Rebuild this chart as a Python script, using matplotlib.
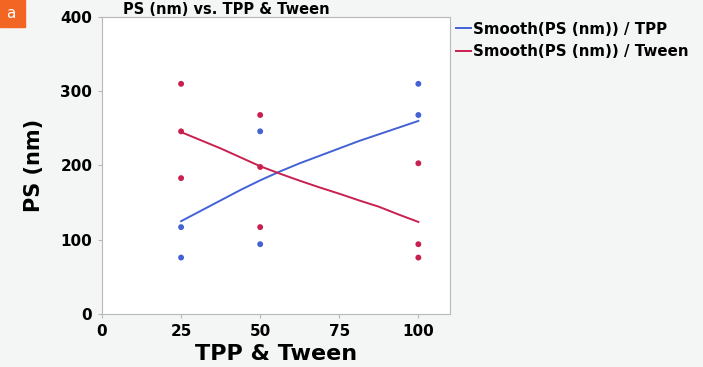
import matplotlib.pyplot as plt
from matplotlib.patches import Rectangle

# raw points
tpp_x = [25, 25, 50, 50, 100, 100]
tpp_ps = [117, 76, 246, 94, 310, 268]
tween_x = [25, 25, 25, 50, 50, 50, 100, 100, 100]
tween_ps = [310, 246, 183, 268, 198, 117, 203, 94, 76]

# smooth curves, read at a few x positions
smooth_x = [25, 31.25, 37.5, 43.75, 50, 56.25, 62.5, 68.75, 75, 81.25, 87.5, 93.75, 100]
smooth_tpp = [125, 139, 153, 167, 180, 192, 203, 213, 223, 233, 242, 251, 260]
smooth_tween = [245, 234, 223, 211, 199, 189, 179.5, 170.5, 162, 153, 144.5, 134, 124]

blue = '#4262d6'
red = '#c8204f'

plt.rcParams['font.family'] = ['DejaVu Sans']
plt.rcParams['font.weight'] = 'bold'

fig = plt.figure(figsize=(7.03, 3.67), dpi=100, facecolor='#f4f5f5')
ax = fig.add_axes([0.1451, 0.1444, 0.4950, 0.8093])
ax.set_facecolor('white')

ax.plot(smooth_x, smooth_tpp, color=blue, lw=1.4, label='Smooth(PS (nm)) / TPP')
ax.plot(smooth_x, smooth_tween, color=red, lw=1.4, label='Smooth(PS (nm)) / Tween')
ax.scatter(tpp_x, tpp_ps, color=blue, s=18, zorder=3, edgecolors='none')
ax.scatter(tween_x, tween_ps, color=red, s=18, zorder=3, edgecolors='none')

ax.set_xlim(0, 110)
ax.set_ylim(0, 400)
ax.set_xticks([0, 25, 50, 75, 100])
ax.set_yticks([0, 100, 200, 300, 400])
for s in ax.spines.values():
    s.set_color('#b8b8b8')
ax.tick_params(colors='#b8b8b8', labelcolor='black', labelsize=11, length=3, pad=4)
for lab in ax.get_xticklabels() + ax.get_yticklabels():
    lab.set_fontweight('bold')

ax.set_xlabel('TPP & Tween', fontsize=16, fontweight='bold', labelpad=4)
ax.set_ylabel('PS (nm)', fontsize=15, fontweight='bold', labelpad=12)
ax.set_title('PS (nm) vs. TPP & Tween', fontsize=10.5, fontweight='bold',
             loc='left', x=0.06, pad=1)

ax.legend(loc='upper left', bbox_to_anchor=(0.978, 1.03), frameon=False,
          handlelength=1.0, handletextpad=0.15, labelspacing=0.5,
          prop={'weight': 'bold', 'size': 10.8})

# panel tag
fig.patches.append(Rectangle((0, 0.926), 0.036, 0.074, transform=fig.transFigure,
                             color='#f26522'))
fig.text(0.016, 0.963, 'a', color='white', fontsize=11, ha='center', va='center',
         fontweight='normal')

fig.savefig('out.png', dpi=100, facecolor=fig.get_facecolor())
